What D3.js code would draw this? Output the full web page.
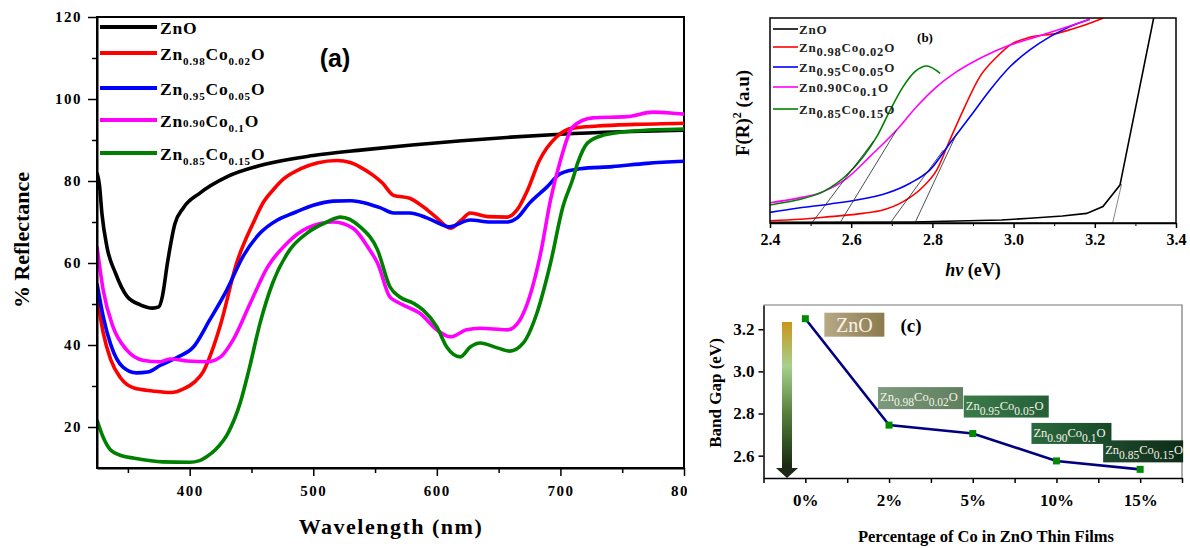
<!DOCTYPE html>
<html>
<head>
<meta charset="utf-8">
<script src="https://cdn.jsdelivr.net/npm/d3@7/dist/d3.min.js"></script>
<style>
  html, body { margin: 0; padding: 0; background: #fff; }
  svg { display: block; }
</style>
</head>
<body>
<div id="chart"></div>
<script>
const SERIF = '"Liberation Serif", "Times New Roman", serif';
const SANS = '"Liberation Sans", Arial, sans-serif';

// ---------- (a) reflectance spectra ----------
const seriesColors = ['#000000', '#ff0000', '#0000ff', '#ff00ff', '#008000'];

const wlZnO = [325, 327, 329, 333, 340, 349, 360, 370, 375, 378, 382, 388, 395, 408, 430, 460, 500, 540, 580, 620, 660, 700, 750, 800];
const rZnO  = [82, 79, 72, 64, 57.5, 52, 49.8, 49, 49.3, 52, 60, 69.5, 73.5, 77, 81, 84, 86.2, 87.6, 88.8, 89.8, 90.7, 91.4, 92, 92.4];

const wlCo02 = [325, 330, 336, 344, 355, 370, 385, 395, 404, 411, 418, 425, 438, 451, 460, 468, 476, 490, 503, 519, 530, 538, 548, 556, 565, 578, 589, 600, 611, 620, 627, 641, 657, 665, 673, 683, 697, 710, 730, 760, 800];
const rCo02  = [52, 43, 36.5, 32, 29.5, 28.8, 28.4, 29.3, 31, 33.5, 38.5, 45, 60, 69.5, 75, 78, 80.5, 83, 84.4, 85, 84.5, 83.4, 81.5, 79.5, 76.5, 75.8, 73.7, 71, 68.5, 70.5, 72.2, 71.3, 71.2, 73, 77.5, 85, 90.8, 92.9, 93.4, 93.8, 94.1];

const wlCo05 = [325, 330, 336, 346, 357, 366, 376, 390, 403, 416, 430, 443, 457, 471, 484, 500, 516, 530, 538, 554, 565, 578, 592, 603, 610, 627, 643, 657, 665, 675, 689, 700, 716, 742, 770, 800];
const rCo05  = [55, 47, 40.2, 34.6, 33.2, 33.4, 35, 37, 39.5, 46, 53.4, 61.5, 67.3, 70.5, 72.2, 74.1, 75.1, 75.2, 74.9, 73.5, 72.2, 72.2, 71, 69.5, 68.8, 70.5, 70, 70, 71, 74.6, 78.5, 81.8, 83, 83.5, 84.3, 84.8];

const wlCo10 = [325, 330, 338, 349, 362, 376, 384, 398, 414, 425, 435, 449, 463, 479, 495, 516, 532, 545, 552, 562, 568, 576, 586, 600, 611, 624, 635, 657, 667, 675, 684, 692, 700, 710, 726, 754, 775, 789, 800];
const rCo10  = [64, 53.4, 44.4, 38.8, 36.3, 35.9, 36.6, 36.1, 35.9, 37.1, 41.2, 50.2, 59, 64.9, 68.5, 70, 68.5, 63.5, 60, 51.7, 50.5, 49.3, 47.8, 43.7, 42, 43.7, 44.1, 43.7, 46, 51.7, 62.4, 75.4, 85, 93.2, 95.4, 95.7, 96.8, 96.6, 96.3];

const wlCo15 = [325, 330, 336, 345, 355, 378, 400, 408, 414, 421, 431, 441, 448, 457, 467, 481, 495, 511, 522, 538, 552, 562, 570, 581, 589, 600, 608, 619, 627, 635, 649, 659, 670, 681, 692, 702, 710, 714, 722, 735, 759, 800];
const rCo15  = [21.7, 17.5, 14.4, 13, 12.4, 11.5, 11.4, 11.8, 12.8, 14.5, 18.5, 26, 34, 45.4, 55, 63.2, 67.3, 70, 71.2, 68.8, 63.2, 54.2, 51.7, 50.2, 48.5, 44.4, 39.5, 37.1, 39.5, 40.5, 39.3, 38.5, 40.5, 47.8, 60, 73.7, 80.5, 84.4, 89.3, 91.2, 92.2, 92.7];

const aWl = [wlZnO, wlCo02, wlCo05, wlCo10, wlCo15];
const aR  = [rZnO, rCo02, rCo05, rCo10, rCo15];

// ---------- (b) Kubelka-Munk plot ----------
const evZnO = [2.40, 2.75, 2.97, 3.04, 3.12, 3.18, 3.22, 3.262, 3.345];
const fZnO  = [0.3, 0.5, 1.5, 2.3, 3.4, 4.7, 8, 18.5, 100];
const evCo02 = [2.40, 2.474, 2.548, 2.629, 2.678, 2.728, 2.777, 2.811, 2.843, 2.876, 2.917, 2.959, 2.991, 3.040, 3.107, 3.164, 3.220];
const fCo02  = [1.1, 1.8, 3.1, 4.7, 6.3, 10.4, 17.7, 25.9, 40.5, 55.1, 71.4, 81.1, 86.8, 90.6, 92.5, 95.8, 99.9];
const evCo05 = [2.40, 2.466, 2.548, 2.613, 2.687, 2.745, 2.794, 2.843, 2.893, 2.942, 2.991, 3.040, 3.090, 3.139, 3.188];
const fCo05  = [5.2, 7.2, 9.3, 11.2, 14.5, 19.4, 25.9, 38.9, 51.9, 64.9, 76.2, 84.4, 90.9, 95.8, 99.4];
const evCo10 = [2.40, 2.466, 2.531, 2.589, 2.646, 2.712, 2.761, 2.811, 2.860, 2.925, 2.991, 3.057, 3.122, 3.188];
const fCo10  = [9.9, 12.0, 15.3, 21.8, 32.4, 45.4, 56.7, 66.5, 73.8, 81.1, 86.8, 90.9, 95.0, 99.4];
const evCo15 = [2.40, 2.466, 2.531, 2.589, 2.630, 2.663, 2.696, 2.728, 2.757, 2.786, 2.819];
const fCo15  = [8.8, 11.2, 15.3, 23.4, 32.4, 42.1, 55.1, 66.5, 73.8, 76.6, 73.0];

const bEv = [evZnO, evCo02, evCo05, evCo10, evCo15];
const bF  = [fZnO, fCo02, fCo05, fCo10, fCo15];

// tangent (Tauc) lines: [eV, F] start and end
const tangentFrom = [[3.244, 0], [2.757, 0], [2.696, 0], [2.572, 0], [2.503, 0]];
const tangentTo   = [[3.266, 19], [2.86, 43.7], [2.827, 35.6], [2.712, 45.4], [2.655, 40]];

// ---------- (c) band gap ----------
const coLabels = ['0%', '2%', '5%', '10%', '15%'];
const bandGap  = [3.25, 2.745, 2.705, 2.575, 2.535];

// formula pieces: 0 = normal, 1 = subscript, 2 = small on baseline
const fmlA = [
  [['ZnO', 0]],
  [['Zn', 0], ['0.98', 1], ['Co', 0], ['0.02', 1], ['O', 0]],
  [['Zn', 0], ['0.95', 1], ['Co', 0], ['0.05', 1], ['O', 0]],
  [['Zn', 0], ['0.90', 2], ['Co', 0], ['0.1', 1], ['O', 0]],
  [['Zn', 0], ['0.85', 1], ['Co', 0], ['0.15', 1], ['O', 0]]
];
const fmlB = [
  [['ZnO', 0]],
  [['Zn', 0], ['0.98', 1], ['Co', 0], ['0.02', 1], ['O', 0]],
  [['Zn', 0], ['0.95', 1], ['Co', 0], ['0.05', 1], ['O', 0]],
  [['Zn0.90Co', 0], ['0.1', 1], ['O', 0]],
  [['Zn', 0], ['0.85', 1], ['Co', 0], ['0.15', 1], ['O', 0]]
];
const fmlC = [
  [['ZnO', 0]],
  [['Zn', 0], ['0.98', 1], ['Co', 0], ['0.02', 1], ['O', 0]],
  [['Zn', 0], ['0.95', 1], ['Co', 0], ['0.05', 1], ['O', 0]],
  [['Zn', 0], ['0.90', 1], ['Co', 0], ['0.1', 1], ['O', 0]],
  [['Zn', 0], ['0.85', 1], ['Co', 0], ['0.15', 1], ['O', 0]]
];

function addFormula(textSel, parts, size, subSize, shift) {
  let low = false;
  parts.forEach(([s, kind]) => {
    const sub = kind === 1;
    let dy = 0;
    if (sub && !low) dy = shift;
    if (!sub && low) dy = -shift;
    low = sub;
    textSel.append('tspan')
      .attr('dy', dy)
      .attr('font-size', kind === 0 ? size : subSize)
      .text(s);
  });
}

function styleAxis(g, size, width) {
  g.attr('font-family', SERIF).attr('font-size', size);
  g.select('.domain').attr('stroke', '#000').attr('stroke-width', width);
  g.selectAll('.tick line').attr('stroke', '#000').attr('stroke-width', 1.5);
  g.selectAll('.tick text').attr('fill', '#000').attr('font-weight', 'bold');
}

const W = 1190, H = 548;
const svg = d3.select('#chart').append('svg').attr('width', W).attr('height', H);
svg.append('rect').attr('width', W).attr('height', H).attr('fill', '#fff');
const defs = svg.append('defs');

/* ================= panel (a) ================= */
defs.append('clipPath').attr('id', 'clipAPanel').append('rect').attr('x', 0).attr('y', 0).attr('width', 687).attr('height', H);
defs.append('clipPath').attr('id', 'clipAPlot').append('rect').attr('x', 97).attr('y', 17).attr('width', 587).attr('height', 451);

const gA = svg.append('g').attr('clip-path', 'url(#clipAPanel)');
const xA = d3.scaleLinear().domain([325, 800]).range([97, 684]);
const yA = d3.scaleLinear().domain([10, 120]).range([468, 17]);

// frame
gA.append('rect').attr('x', 97).attr('y', 17).attr('width', 587).attr('height', 451)
  .attr('fill', 'none').attr('stroke', '#000').attr('stroke-width', 2);

const lineA = d3.line().x(d => xA(d[0])).y(d => yA(d[1])).curve(d3.curveMonotoneX);
const plotA = gA.append('g').attr('clip-path', 'url(#clipAPlot)');
aWl.forEach((wl, i) => {
  plotA.append('path')
    .datum(wl.map((w, j) => [w, aR[i][j]]))
    .attr('fill', 'none')
    .attr('stroke', seriesColors[i])
    .attr('stroke-width', 3.6)
    .attr('stroke-linejoin', 'round')
    .attr('d', lineA);
});

// axes
const axAx = gA.append('g').attr('transform', 'translate(0,468)')
  .call(d3.axisBottom(xA).tickValues([400, 500, 600, 700, 800]).tickSize(8).tickSizeOuter(0).tickPadding(9));
styleAxis(axAx, 15, 2);
axAx.selectAll('.tick text').attr('letter-spacing', 1.5);
gA.append('g').attr('transform', 'translate(0,468)')
  .call(d3.axisBottom(xA).tickValues([350, 450, 550, 650, 750]).tickSize(5).tickFormat(''))
  .call(g => g.select('.domain').remove())
  .selectAll('line').attr('stroke', '#000').attr('stroke-width', 1.5);

const ayAx = gA.append('g').attr('transform', 'translate(97,0)')
  .call(d3.axisLeft(yA).tickValues([20, 40, 60, 80, 100, 120]).tickSize(9).tickSizeOuter(0).tickPadding(6));
styleAxis(ayAx, 15, 2);
ayAx.selectAll('.tick text').attr('letter-spacing', 1.5);
gA.append('g').attr('transform', 'translate(97,0)')
  .call(d3.axisLeft(yA).tickValues([30, 50, 70, 90, 110]).tickSize(5).tickFormat(''))
  .call(g => g.select('.domain').remove())
  .selectAll('line').attr('stroke', '#000').attr('stroke-width', 1.5);

gA.append('text')
  .attr('transform', 'translate(29,240) rotate(-90)')
  .attr('text-anchor', 'middle')
  .attr('font-family', SERIF).attr('font-weight', 'bold').attr('font-size', 22)
  .text('% Reflectance');

gA.append('text')
  .attr('x', 391).attr('y', 534)
  .attr('text-anchor', 'middle')
  .attr('font-family', SERIF).attr('font-weight', 'bold').attr('font-size', 22)
  .attr('letter-spacing', 1.5)
  .text('Wavelength (nm)');

gA.append('text')
  .attr('x', 335).attr('y', 67)
  .attr('text-anchor', 'middle')
  .attr('font-family', SANS).attr('font-weight', 'bold').attr('font-size', 25)
  .text('(a)');

// legend (a)
const legYA = [27, 53, 88, 120, 153];
legYA.forEach((y, i) => {
  gA.append('line').attr('x1', 100).attr('x2', 157).attr('y1', y).attr('y2', y)
    .attr('stroke', seriesColors[i]).attr('stroke-width', 4);
  const t = gA.append('text').attr('x', 160).attr('y', y + 7)
    .attr('font-family', SERIF).attr('font-weight', 'bold').attr('letter-spacing', 0.8);
  addFormula(t, fmlA[i], 17.5, 11, 5);
});

/* ================= panel (b) ================= */
const gB = svg.append('g');
const xB = d3.scaleLinear().domain([2.4, 3.4]).range([770, 1176]);
const yB = d3.scaleLinear().domain([0, 100]).range([223, 18]);
defs.append('clipPath').attr('id', 'clipB').append('rect').attr('x', 770).attr('y', 18).attr('width', 406).attr('height', 205);

const plotB = gB.append('g').attr('clip-path', 'url(#clipB)');
const lineB = d3.line().x(d => xB(d[0])).y(d => yB(d[1]));
bEv.forEach((ev, i) => {
  plotB.append('path')
    .datum(ev.map((e, j) => [e, bF[i][j]]))
    .attr('fill', 'none')
    .attr('stroke', seriesColors[i])
    .attr('stroke-width', 1.6)
    .attr('d', lineB.curve(i === 0 ? d3.curveLinear : d3.curveMonotoneX));
});
tangentFrom.forEach((p, i) => {
  plotB.append('path')
    .datum([p, tangentTo[i]])
    .attr('fill', 'none')
    .attr('stroke', i === 0 ? '#666' : '#222')
    .attr('stroke-width', 0.8)
    .attr('d', lineB.curve(d3.curveLinear));
});

gB.append('rect').attr('x', 770).attr('y', 18).attr('width', 406).attr('height', 205)
  .attr('fill', 'none').attr('stroke', '#000').attr('stroke-width', 1.5);

const bxAx = gB.append('g').attr('transform', 'translate(0,223)')
  .call(d3.axisBottom(xB).tickValues([2.4, 2.6, 2.8, 3.0, 3.2, 3.4]).tickFormat(d3.format('.1f')).tickSize(5).tickSizeOuter(0).tickPadding(6));
styleAxis(bxAx, 16, 1.5);
gB.append('g').attr('transform', 'translate(0,223)')
  .call(d3.axisBottom(xB).tickValues([2.5, 2.7, 2.9, 3.1, 3.3]).tickSize(3).tickFormat(''))
  .call(g => g.select('.domain').remove())
  .selectAll('line').attr('stroke', '#000');

const hv = gB.append('text').attr('x', 973).attr('y', 276).attr('text-anchor', 'middle')
  .attr('font-family', SERIF).attr('font-size', 18);
hv.append('tspan').attr('font-weight', 'bold').attr('font-style', 'italic').text('hv');
hv.append('tspan').attr('font-weight', 'bold').text(' (eV)');

const fr = gB.append('text')
  .attr('transform', 'translate(749,113) rotate(-90)')
  .attr('text-anchor', 'middle')
  .attr('font-family', SERIF).attr('font-weight', 'bold').attr('font-size', 19);
fr.append('tspan').text('F(R)');
fr.append('tspan').attr('dy', -8).attr('font-size', 12).text('2');
fr.append('tspan').attr('dy', 8).text(' (a.u)');

gB.append('text').attr('x', 925).attr('y', 42).attr('text-anchor', 'middle')
  .attr('font-family', SERIF).attr('font-weight', 'bold').attr('font-size', 13)
  .text('(b)');

const legYB = [29, 47, 67, 87, 109];
legYB.forEach((y, i) => {
  gB.append('line').attr('x1', 773).attr('x2', 798).attr('y1', y).attr('y2', y)
    .attr('stroke', seriesColors[i]).attr('stroke-width', 1.6);
  const t = gB.append('text').attr('x', 799).attr('y', y + 4.5)
    .attr('font-family', SERIF).attr('font-weight', 'bold').attr('fill', '#222').attr('letter-spacing', 0.8);
  addFormula(t, fmlB[i], 13, 12.5, 4);
});

/* ================= panel (c) ================= */
const gC = svg.append('g');
const xC = d3.scaleLinear().domain([-0.5, 4.5]).range([763.5, 1182]);
const yC = d3.scaleLinear().domain([2.494, 3.315]).range([478, 305]);

// top/right frame (grey)
gC.append('path').attr('d', 'M763.5,305H1182V478')
  .attr('fill', 'none').attr('stroke', '#777').attr('stroke-width', 1.2);

// gradient arrow
const grad = defs.append('linearGradient').attr('id', 'arrowGrad')
  .attr('x1', 0).attr('y1', 0).attr('x2', 0).attr('y2', 1);
[['0%', '#c9951a'], ['30%', '#a7d08d'], ['62%', '#587f3e'], ['85%', '#2e4a1f'], ['100%', '#1b2413']]
  .forEach(([o, c]) => grad.append('stop').attr('offset', o).attr('stop-color', c));
gC.append('rect').attr('x', 782).attr('y', 322).attr('width', 10).attr('height', 147)
  .attr('fill', 'url(#arrowGrad)');
gC.append('path').attr('d', 'M776,468H798L787,478Z').attr('fill', '#1e2816');

const cxAx = gC.append('g').attr('transform', 'translate(0,478)')
  .call(d3.axisBottom(xC).tickValues([0, 1, 2, 3, 4]).tickFormat(i => coLabels[i]).tickSize(5).tickSizeOuter(0).tickPadding(11));
styleAxis(cxAx, 17, 1.5);
gC.append('g').attr('transform', 'translate(0,478)')
  .call(d3.axisBottom(xC).tickValues([-0.5, 0.5, 1.5, 2.5, 3.5, 4.5]).tickSize(5).tickFormat(''))
  .call(g => g.select('.domain').remove())
  .selectAll('line').attr('stroke', '#000').attr('stroke-width', 1.5);

const cyAx = gC.append('g').attr('transform', 'translate(763.5,0)')
  .call(d3.axisLeft(yC).tickValues([2.6, 2.8, 3.0, 3.2]).tickFormat(d3.format('.1f')).tickSize(5).tickSizeOuter(0).tickPadding(4));
styleAxis(cyAx, 17, 1.5);

gC.append('text')
  .attr('transform', 'translate(721,393) rotate(-90)')
  .attr('text-anchor', 'middle')
  .attr('font-family', SERIF).attr('font-weight', 'bold').attr('font-size', 17)
  .text('Band Gap (eV)');

gC.append('text')
  .attr('x', 986).attr('y', 542)
  .attr('text-anchor', 'middle')
  .attr('font-family', SERIF).attr('font-weight', 'bold').attr('font-size', 16.5)
  .text('Percentage of Co in ZnO Thin Films');

gC.append('text').attr('x', 911).attr('y', 332).attr('text-anchor', 'middle')
  .attr('font-family', SERIF).attr('font-weight', 'bold').attr('font-size', 19)
  .text('(c)');

// band gap line + markers
gC.append('path')
  .datum(bandGap.map((v, i) => [i, v]))
  .attr('fill', 'none').attr('stroke', '#000080').attr('stroke-width', 2.6)
  .attr('d', d3.line().x(d => xC(d[0])).y(d => yC(d[1])));
gC.selectAll('rect.pt').data(bandGap).enter().append('rect')
  .attr('class', 'pt')
  .attr('x', (d, i) => xC(i) - 3.5).attr('y', d => yC(d) - 3.5)
  .attr('width', 7).attr('height', 7).attr('fill', '#008a00');

// composition labels next to points
const boxOffset = [[19, -6, 60, 24], [-11, -38, 85, 22], [-9, -38, 85, 22], [-25, -38, 80, 21], [-37, -29, 80, 22]];
const boxColors = [['#b6a985', '#8c7a4e'], ['#7d9a7c', '#5f7f5e'], ['#3b7b49', '#255f38'], ['#2d6a3d', '#164829'], ['#1f4b2d', '#0d2c17']];
bandGap.forEach((v, i) => {
  const g = defs.append('linearGradient').attr('id', 'box' + i);
  g.append('stop').attr('offset', '0%').attr('stop-color', boxColors[i][0]);
  g.append('stop').attr('offset', '100%').attr('stop-color', boxColors[i][1]);
  const [dx, dy, w, h] = boxOffset[i];
  const bx = xC(i) + dx, by = yC(v) + dy;
  gC.append('rect').attr('x', bx).attr('y', by).attr('width', w).attr('height', h)
    .attr('fill', `url(#box${i})`);
  const t = gC.append('text').attr('font-family', SERIF).attr('fill', '#f6f3ea');
  if (i === 0) {
    t.attr('x', bx + w / 2).attr('y', by + 19).attr('text-anchor', 'middle');
    addFormula(t, fmlC[i], 20, 20, 0);
  } else {
    t.attr('x', bx + 2).attr('y', by + 14);
    addFormula(t, fmlC[i], 12.5, 11.5, 5);
  }
});
</script>
</body>
</html>
